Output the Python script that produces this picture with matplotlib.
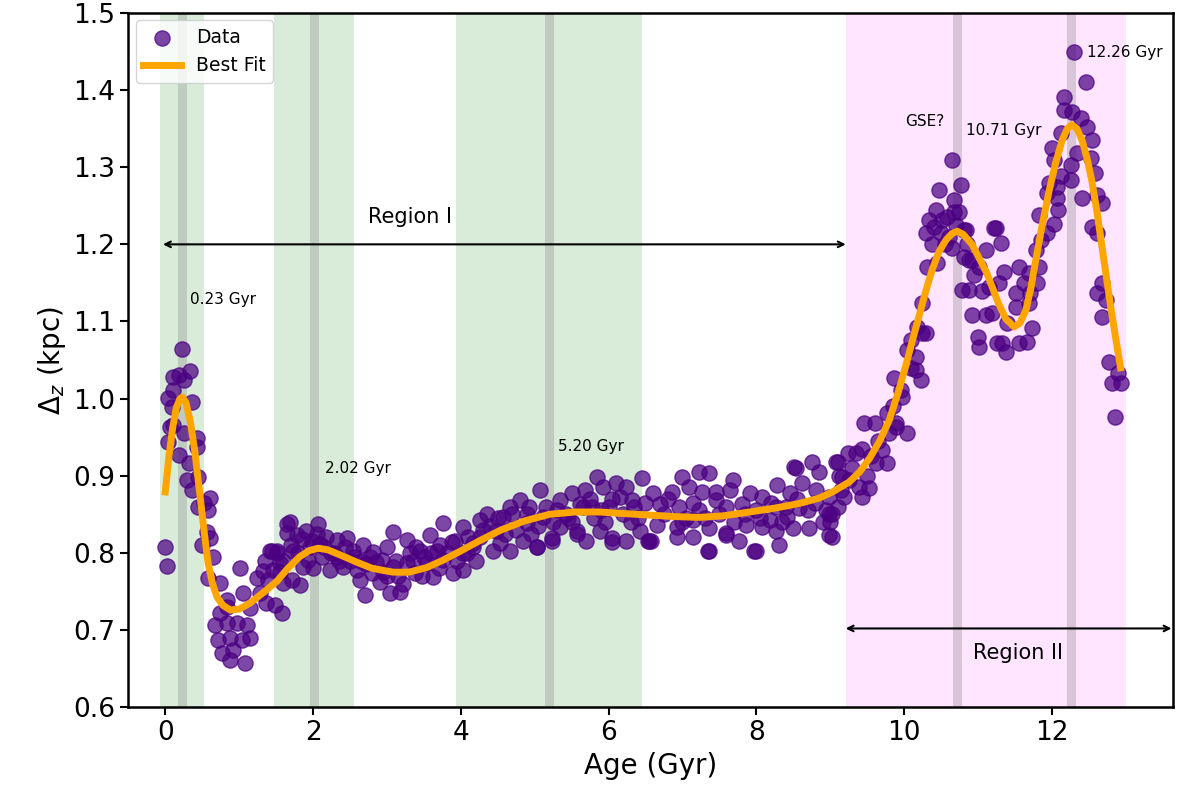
import matplotlib.pyplot as plt
import numpy as np

# scatter data (Age in Gyr, Delta_z in kpc)
age = [
    0.23, 0.18, 0.34, 0.25, 0.10, 0.04, 0.09, 0.36, 0.11, 0.04,
    0.25, 0.43, 0.43, 0.18, 0.32, 0.45, 0.29, 0.36, 0.61, 0.45,
    0.58, 0.56, 0.61, 0.50, 0.65, 0.00, 0.02, 0.58, 0.74, 1.01,
    0.83, 0.74, 0.68, 0.83, 0.97, 1.10, 0.72, 0.88, 1.04, 1.15,
    0.77, 0.92, 0.88, 1.08, 0.84, 1.05, 1.15, 0.07, 0.11, 0.52,
    # 1.2 - 4.2
    1.24, 1.33, 1.42, 1.65, 1.65, 1.51, 1.60, 1.49, 1.58, 1.28,
    1.37, 1.44, 1.69, 1.78, 1.91, 2.07, 2.05, 2.18, 2.32, 2.43,
    2.54, 2.68, 2.81, 2.93, 3.08, 3.27, 3.40, 3.58, 3.76, 3.88,
    4.03, 1.82, 1.72, 1.55, 1.87, 2.12, 2.23, 2.41, 2.59, 2.70,
    2.64, 2.80, 2.91, 3.04, 3.18, 3.08, 3.27, 3.38, 3.54, 3.62,
    3.76, 3.89, 4.03, 4.16, 3.45, 1.73, 1.96, 1.93, 2.32, 2.46,
    2.77, 3.00, 3.31, 3.68, 1.51, 1.39, 1.46, 1.98, 2.15, 2.50,
    1.60, 1.80, 2.00, 2.28, 2.65, 2.95, 3.15, 3.50, 3.70, 3.95,
    1.35, 1.55, 1.70, 1.85, 2.10, 2.25, 2.35, 2.55, 2.72, 2.85,
    3.00, 3.12, 3.22, 3.35, 3.48, 3.60, 3.72, 3.82, 3.92, 4.10,
    # 4 - 6.6
    4.03, 4.16, 4.35, 4.26, 4.44, 4.48, 4.66, 4.80, 4.66, 4.84,
    4.93, 5.07, 5.03, 4.89, 5.23, 5.34, 5.51, 5.68, 5.84, 5.92,
    6.10, 6.24, 6.45, 6.15, 6.32, 5.34, 5.57, 5.70, 5.88, 6.05,
    6.24, 6.42, 6.55, 5.78, 5.61, 6.01, 5.43, 5.11, 4.57, 4.26,
    4.09, 4.53, 5.03, 5.23, 5.57, 6.05, 6.53, 4.20, 4.40, 4.75,
    5.15, 5.45, 5.80, 6.20, 6.40, 4.60, 4.95, 5.25, 5.95, 6.35,
    4.30, 4.50, 4.70, 4.90, 5.05, 5.30, 5.50, 5.65, 5.75, 5.90,
    # 6.6 - 9.2
    6.99, 7.23, 7.36, 7.68, 8.54, 8.76, 8.85, 9.08, 7.36, 8.00,
    8.31, 8.99, 7.77, 6.92, 8.28, 8.51, 6.60, 6.86, 7.09, 7.27,
    7.46, 7.64, 7.91, 8.08, 8.45, 8.62, 8.81, 8.99, 9.15, 6.69,
    6.96, 7.23, 7.59, 7.81, 8.00, 8.27, 8.58, 8.95, 6.65, 6.92,
    7.14, 7.36, 7.59, 7.86, 8.08, 8.27, 8.49, 8.72, 8.99, 6.58,
    7.14, 7.34, 7.59, 7.97, 8.18, 8.41, 7.46, 8.90, 9.10, 7.05,
    6.05, 6.30, 6.50, 6.75, 6.80, 7.00, 7.15, 7.30, 7.50, 7.70,
    7.85, 8.05, 8.20, 8.35, 8.55, 8.70, 8.80, 9.00, 9.12, 8.40,
    # 9.0 - 10.3
    9.03, 9.03, 9.10, 9.16, 9.19, 9.24, 9.35, 9.43, 9.43, 9.53,
    9.39, 9.26, 9.62, 9.77, 9.46, 9.60, 9.77, 9.89, 10.04, 9.86,
    9.97, 10.16, 10.23, 10.04, 10.16, 10.24, 10.24, 9.70, 9.89, 9.96,
    9.80, 10.09, 10.18, 10.30, 9.50, 9.30, 9.65, 10.10, 9.55, 9.85,
    # 10.3 - 11.3
    10.31, 10.45, 10.30, 10.41, 10.47, 10.43, 10.34, 10.51, 10.61, 10.68,
    10.77, 10.74, 10.65, 10.84, 10.81, 10.92, 10.88, 11.11, 11.22, 11.01,
    11.15, 10.92, 11.11, 11.00, 11.01, 11.26, 10.78, 10.88, 10.68, 10.81,
    10.55, 10.38, 10.70, 10.95, 11.19, 10.58, 10.50, 10.65, 10.85, 11.05,
    # 11.2 - 13
    12.30, 12.46, 12.16, 12.16, 12.27, 12.39, 12.47, 12.54, 12.12, 12.00,
    12.03, 12.34, 12.53, 12.26, 12.12, 12.26, 12.59, 11.96, 11.93, 12.07,
    12.41, 12.61, 12.68, 12.09, 11.82, 12.03, 11.93, 11.86, 12.54, 12.61,
    11.78, 11.82, 11.80, 11.69, 11.55, 11.62, 11.51, 11.69, 11.73, 11.55,
    11.66, 11.32, 11.38, 11.39, 11.51, 11.35, 11.28, 11.24, 11.31, 11.71,
    12.68, 12.61, 12.68, 12.73, 12.77, 12.90, 12.81, 12.93, 12.86, 12.07,
]
dz = [
    1.064, 1.030, 1.036, 1.024, 1.011, 1.001, 0.989, 0.995, 0.966, 0.944,
    0.955, 0.949, 0.937, 0.927, 0.916, 0.898, 0.894, 0.881, 0.871, 0.859,
    0.855, 0.827, 0.819, 0.810, 0.795, 0.807, 0.783, 0.767, 0.761, 0.781,
    0.739, 0.722, 0.706, 0.709, 0.709, 0.706, 0.687, 0.689, 0.687, 0.689,
    0.670, 0.674, 0.661, 0.657, 0.730, 0.748, 0.728, 0.963, 1.028, 0.865,
    # 1.2 - 4.2
    0.768, 0.777, 0.803, 0.838, 0.826, 0.803, 0.761, 0.732, 0.722, 0.748,
    0.735, 0.803, 0.840, 0.823, 0.829, 0.838, 0.825, 0.820, 0.817, 0.808,
    0.803, 0.810, 0.801, 0.791, 0.827, 0.817, 0.808, 0.823, 0.839, 0.814,
    0.833, 0.758, 0.765, 0.787, 0.782, 0.795, 0.778, 0.782, 0.778, 0.745,
    0.765, 0.774, 0.762, 0.748, 0.749, 0.782, 0.787, 0.774, 0.787, 0.769,
    0.791, 0.774, 0.800, 0.808, 0.803, 0.803, 0.808, 0.791, 0.795, 0.819,
    0.795, 0.808, 0.800, 0.803, 0.800, 0.765, 0.778, 0.815, 0.808, 0.790,
    0.790, 0.800, 0.780, 0.800, 0.790, 0.775, 0.770, 0.795, 0.780, 0.790,
    0.790, 0.775, 0.810, 0.818, 0.812, 0.800, 0.790, 0.795, 0.785, 0.788,
    0.770, 0.790, 0.760, 0.790, 0.770, 0.800, 0.810, 0.800, 0.815, 0.820,
    # 4 - 6.6
    0.778, 0.813, 0.851, 0.820, 0.803, 0.829, 0.859, 0.868, 0.803, 0.816,
    0.859, 0.881, 0.808, 0.839, 0.819, 0.868, 0.877, 0.881, 0.898, 0.885,
    0.890, 0.885, 0.897, 0.872, 0.868, 0.833, 0.829, 0.816, 0.829, 0.819,
    0.816, 0.829, 0.816, 0.859, 0.864, 0.859, 0.851, 0.846, 0.846, 0.842,
    0.800, 0.813, 0.808, 0.816, 0.825, 0.814, 0.816, 0.790, 0.835, 0.830,
    0.860, 0.845, 0.845, 0.850, 0.845, 0.825, 0.825, 0.840, 0.840, 0.860,
    0.830, 0.845, 0.850, 0.850, 0.835, 0.855, 0.840, 0.860, 0.870, 0.855,
    # 6.6 - 9.2
    0.898, 0.905, 0.903, 0.894, 0.910, 0.918, 0.905, 0.918, 0.803, 0.803,
    0.810, 0.823, 0.816, 0.820, 0.888, 0.911, 0.877, 0.879, 0.885, 0.879,
    0.879, 0.881, 0.877, 0.872, 0.877, 0.890, 0.881, 0.872, 0.881, 0.864,
    0.859, 0.855, 0.859, 0.864, 0.855, 0.859, 0.858, 0.855, 0.836, 0.833,
    0.842, 0.832, 0.826, 0.836, 0.833, 0.829, 0.832, 0.832, 0.851, 0.816,
    0.820, 0.803, 0.823, 0.803, 0.842, 0.846, 0.868, 0.840, 0.860, 0.845,
    0.870, 0.840, 0.865, 0.850, 0.870, 0.840, 0.865, 0.845, 0.850, 0.840,
    0.850, 0.845, 0.865, 0.840, 0.870, 0.855, 0.865, 0.840, 0.900, 0.860,
    # 9.0 - 10.3
    0.820, 0.851, 0.918, 0.898, 0.872, 0.929, 0.929, 0.935, 0.872, 0.884,
    0.885, 0.894, 0.916, 0.916, 0.968, 0.968, 0.981, 0.968, 0.955, 1.027,
    1.002, 1.037, 1.024, 1.063, 1.054, 1.085, 1.124, 0.933, 0.963, 1.011,
    0.955, 1.076, 1.093, 1.085, 0.900, 0.910, 0.945, 1.040, 0.925, 0.990,
    # 10.3 - 11.3
    1.171, 1.176, 1.215, 1.223, 1.270, 1.245, 1.232, 1.232, 1.210, 1.257,
    1.277, 1.242, 1.309, 1.219, 1.184, 1.180, 1.141, 1.193, 1.221, 1.171,
    1.145, 1.108, 1.108, 1.080, 1.067, 1.072, 1.141, 1.180, 1.242, 1.219,
    1.200, 1.200, 1.225, 1.160, 1.111, 1.235, 1.215, 1.195, 1.200, 1.140,
    # 11.2 - 13
    1.449, 1.410, 1.391, 1.374, 1.372, 1.364, 1.352, 1.335, 1.344, 1.325,
    1.309, 1.318, 1.312, 1.303, 1.288, 1.283, 1.292, 1.279, 1.266, 1.260,
    1.260, 1.264, 1.253, 1.245, 1.238, 1.227, 1.215, 1.206, 1.223, 1.215,
    1.193, 1.171, 1.150, 1.163, 1.171, 1.150, 1.137, 1.124, 1.091, 1.072,
    1.073, 1.072, 1.060, 1.098, 1.119, 1.164, 1.150, 1.221, 1.202, 1.137,
    1.106, 1.137, 1.150, 1.128, 1.047, 1.033, 1.020, 1.020, 0.976, 1.274,
]

# best fit curve
fit_age = [
    0.00, 0.05, 0.10, 0.15, 0.20, 0.23, 0.28, 0.34, 0.40, 0.47,
    0.53, 0.58, 0.64, 0.70, 0.78, 0.88, 1.00, 1.15, 1.32, 1.51,
    1.66, 1.82, 1.95, 2.07, 2.20, 2.40, 2.59, 2.80, 3.08, 3.30,
    3.54, 3.75, 3.99, 4.26, 4.53, 4.85, 5.20, 5.55, 5.88, 6.20,
    6.55, 6.90, 7.23, 7.55, 7.91, 8.25, 8.58, 8.85, 9.03, 9.26,
    9.40, 9.53, 9.67, 9.80, 9.92, 10.03, 10.12, 10.20, 10.29, 10.38,
    10.47, 10.57, 10.65, 10.72, 10.80, 10.92, 11.05, 11.11, 11.20, 11.28,
    11.38, 11.49, 11.57, 11.65, 11.72, 11.78, 11.87, 11.96, 12.05, 12.14,
    12.21, 12.27, 12.34, 12.41, 12.48, 12.54, 12.61, 12.68, 12.75, 12.81,
    12.87, 12.93,
]
fit_dz = [
    0.879, 0.925, 0.962, 0.988, 1.000, 1.002, 0.995, 0.970, 0.932, 0.875,
    0.825, 0.787, 0.760, 0.743, 0.732, 0.726, 0.727, 0.735, 0.748, 0.763,
    0.780, 0.795, 0.803, 0.806, 0.804, 0.796, 0.788, 0.780, 0.775, 0.775,
    0.781, 0.790, 0.802, 0.816, 0.829, 0.841, 0.850, 0.853, 0.853, 0.851,
    0.849, 0.847, 0.846, 0.848, 0.853, 0.858, 0.864, 0.871, 0.879, 0.892,
    0.905, 0.922, 0.945, 0.972, 1.008, 1.045, 1.078, 1.106, 1.138, 1.167,
    1.190, 1.206, 1.214, 1.217, 1.213, 1.200, 1.176, 1.165, 1.143, 1.123,
    1.103, 1.093, 1.098, 1.115, 1.145, 1.178, 1.225, 1.268, 1.305, 1.335,
    1.350, 1.355, 1.350, 1.335, 1.310, 1.283, 1.243, 1.196, 1.150, 1.111,
    1.075, 1.040,
]

green_spans = [(-0.07, 0.52), (1.47, 2.56), (3.94, 6.45)]
pink_span = (9.21, 13.01)
peak_ages = [0.23, 2.02, 5.20, 10.71, 12.26]

fig, ax = plt.subplots(figsize=(11.77, 8.10), dpi=100)
fig.subplots_adjust(left=0.109, right=0.9966, top=0.984, bottom=0.127)

for a, b in green_spans:
    ax.axvspan(a, b, color='green', alpha=0.15, lw=0, zorder=0)
ax.axvspan(pink_span[0], pink_span[1], color='magenta', alpha=0.1, lw=0, zorder=0)
for p in peak_ages:
    ax.axvline(p, color='gray', alpha=0.3, lw=6.5, zorder=1)

ax.scatter(age, dz, s=120, color='indigo', alpha=0.72, label='Data', zorder=2)
ax.plot(fit_age, fit_dz, color='orange', lw=5, label='Best Fit', zorder=3)

# region arrows
ax.annotate('', xy=(-0.03, 1.2), xytext=(9.21, 1.2),
            arrowprops=dict(arrowstyle='<->', color='black', lw=1.5, shrinkA=0, shrinkB=0))
ax.text(3.31, 1.235, 'Region I', fontsize=15, ha='center', va='center')
ax.annotate('', xy=(9.21, 0.702), xytext=(13.62, 0.702),
            arrowprops=dict(arrowstyle='<->', color='black', lw=1.5, shrinkA=0, shrinkB=0))
ax.text(11.54, 0.670, 'Region II', fontsize=15, ha='center', va='center')

ax.text(0.34, 1.129, '0.23 Gyr', fontsize=11, va='center')
ax.text(2.16, 0.909, '2.02 Gyr', fontsize=11, va='center')
ax.text(5.32, 0.938, '5.20 Gyr', fontsize=11, va='center')
ax.text(10.02, 1.359, 'GSE?', fontsize=11, va='center')
ax.text(10.84, 1.348, '10.71 Gyr', fontsize=11, va='center')
ax.text(12.47, 1.449, '12.26 Gyr', fontsize=11, va='center')

ax.set_xlim(-0.5, 13.64)
ax.set_ylim(0.6, 1.5)
ax.set_xticks([0, 2, 4, 6, 8, 10, 12])
ax.tick_params(labelsize=19, width=1.5, length=6)
for sp in ax.spines.values():
    sp.set_linewidth(1.8)
ax.set_xlabel('Age (Gyr)', fontsize=20)
ax.set_ylabel(r'$\Delta_z$ (kpc)', fontsize=20)
ax.legend(loc='upper left', fontsize=13.5, borderaxespad=0.4)

fig.savefig('out.png', dpi=100)
